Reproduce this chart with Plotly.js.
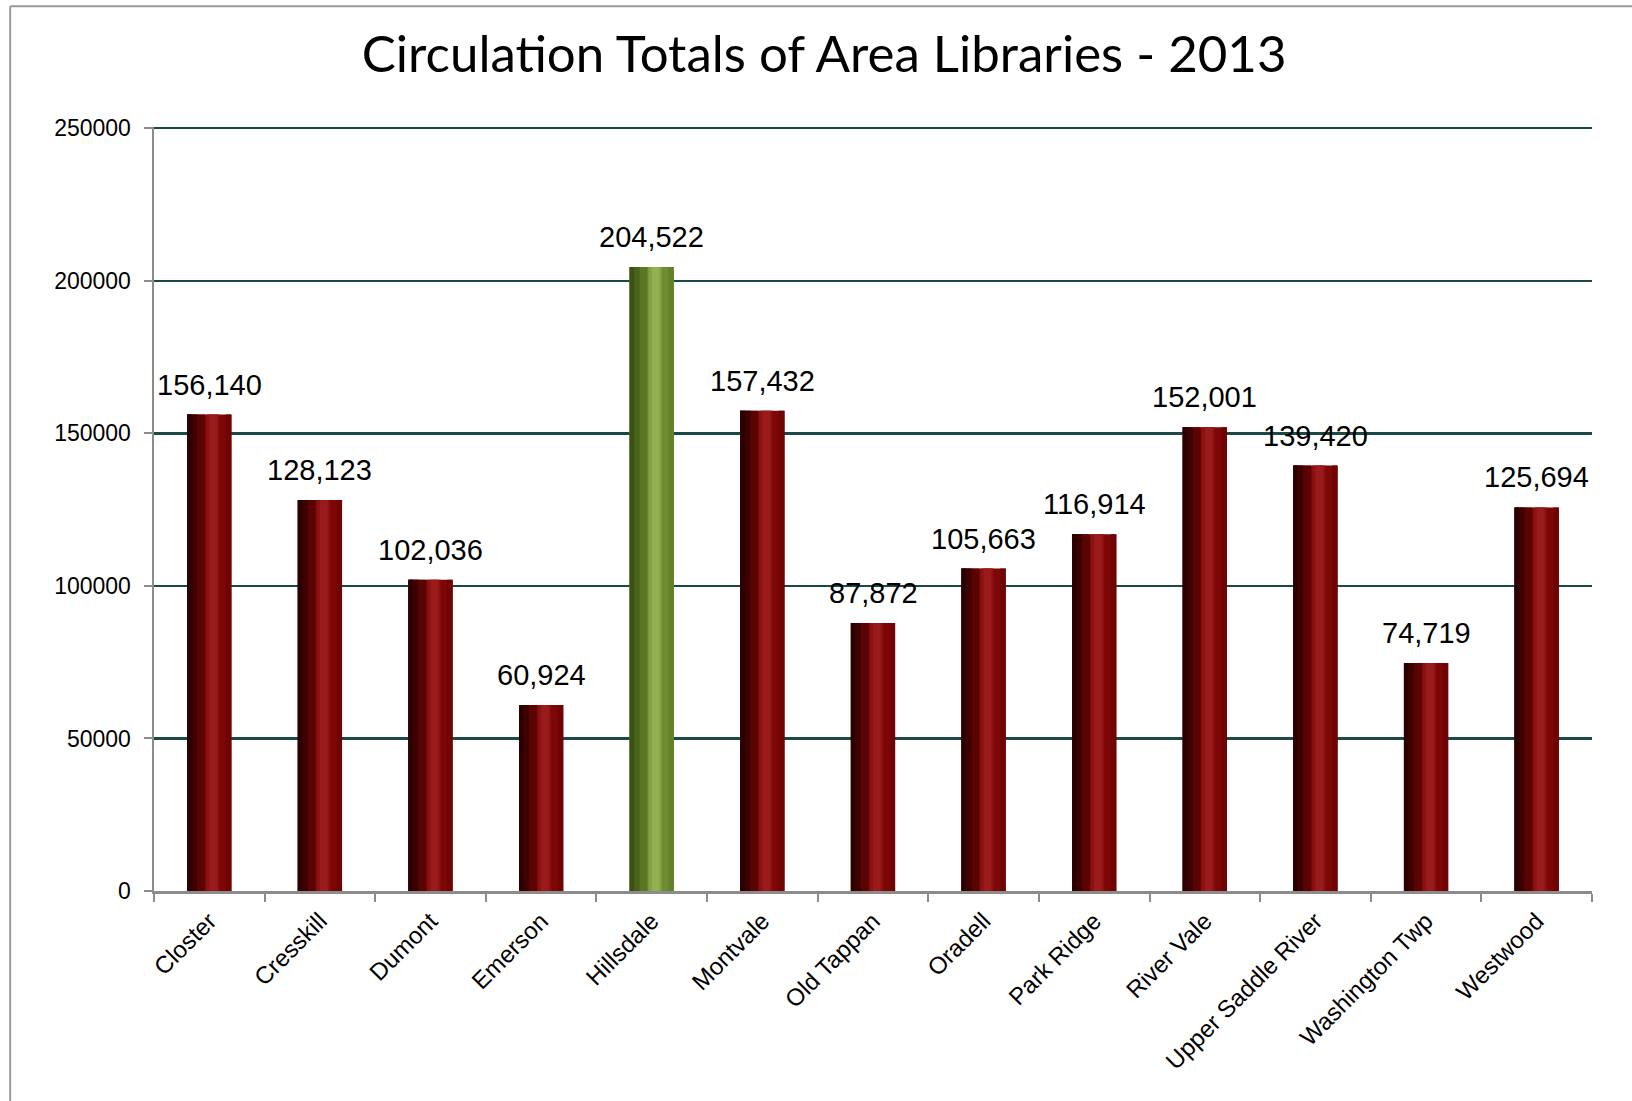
<!DOCTYPE html>
<html><head><meta charset="utf-8">
<script src="https://cdn.plot.ly/plotly-3.0.1.min.js"></script>
<style>html,body{margin:0;padding:0;background:#fff}#chart{width:1632px;height:1101px}</style>
</head><body><div id="chart"></div>
<script>
const libraries = ["Closter","Cresskill","Dumont","Emerson","Hillsdale","Montvale","Old Tappan","Oradell","Park Ridge","River Vale","Upper Saddle River","Washington Twp","Westwood"];
const circulation = [156140,128123,102036,60924,204522,157432,87872,105663,116914,152001,139420,74719,125694];
const highlight = "Hillsdale";
const yTicks = [0,50000,100000,150000,200000,250000];

const isHi = libraries.map(n => n === highlight);
const col = (red, green) => isHi.map(h => h ? green : red);

// cylinder-like shading via overlaid bar layers
const layers = [
  {w:0.40, off:-0.20, c:col("#7d0606","#6f8c30")},
  {w:0.16, off:-0.20, c:col("#5a0303","#5a7624")},
  {w:0.09, off:-0.20, c:col("#3e0101","#4a631b")},
  {w:0.04, off:-0.20, c:col("#2a0000","#3b5214")},
  {w:0.12, off:-0.03, c:col("#8c1212","#84a244")},
  {w:0.07, off:0.0,   c:col("#9a1b1b","#93b052")},
  {w:0.05, off:0.15,  c:col("#6e0404","#63802b")}
];
const traces = layers.map(L => ({
  type:"bar", x:libraries, y:circulation,
  width:L.w, offset:L.off,
  marker:{color:L.c, line:{width:0}},
  hoverinfo:"skip", showlegend:false
}));

const annotations = libraries.map((n,i) => ({
  x:n, y:circulation[i], xref:"x", yref:"y",
  text:circulation[i].toLocaleString("en-US"),
  showarrow:false, yanchor:"bottom", yshift:12,
  font:{family:"Liberation Sans, Arial, sans-serif", size:29, color:"#000"}
}));

const layout = {
  width:1632, height:1101,
  margin:{l:154, r:40, t:127, b:210},
  paper_bgcolor:"#fff", plot_bgcolor:"#fff",
  barmode:"overlay",
  title:{text:"Circulation Totals of Area Libraries - 2013", x:0.505, xanchor:"center", y:0.951, yanchor:"middle",
    font:{family:"Lato, Open Sans, sans-serif", size:51, color:"#000"}},
  xaxis:{type:"category", tickangle:-45, tickson:"boundaries", ticks:"outside", ticklen:8, tickwidth:2, tickcolor:"#8c8c8c",
    showline:true, linecolor:"#8c8c8c", linewidth:2.5, showgrid:false, range:[-0.5,12.5], ticklabelstandoff:4,
    tickfont:{family:"Liberation Sans, Arial, sans-serif", size:24, color:"#000"}},
  yaxis:{range:[0,250400], tickvals:yTicks, ticktext:yTicks.map(String), ticks:"outside", ticklen:8, tickwidth:2, tickcolor:"#8c8c8c",
    showline:true, linecolor:"#8c8c8c", linewidth:2.5, zeroline:false, ticklabelstandoff:8,
    showgrid:true, gridcolor:"#1b4a46", gridwidth:2.5,
    tickfont:{family:"Liberation Sans, Arial, sans-serif", size:23, color:"#000"}},
  annotations:annotations,
  shapes:[
    {type:"line", xref:"paper", yref:"paper", x0:-0.1, x1:1.1, y0:1.158, y1:1.158, line:{color:"#9a9a9a", width:2}},
    {type:"line", xref:"paper", yref:"paper", x0:-0.1, x1:-0.1, y0:-0.3, y1:1.158, line:{color:"#9a9a9a", width:2}}
  ]
};
Plotly.newPlot("chart", traces, layout, {displayModeBar:false, staticPlot:true});
</script></body></html>
